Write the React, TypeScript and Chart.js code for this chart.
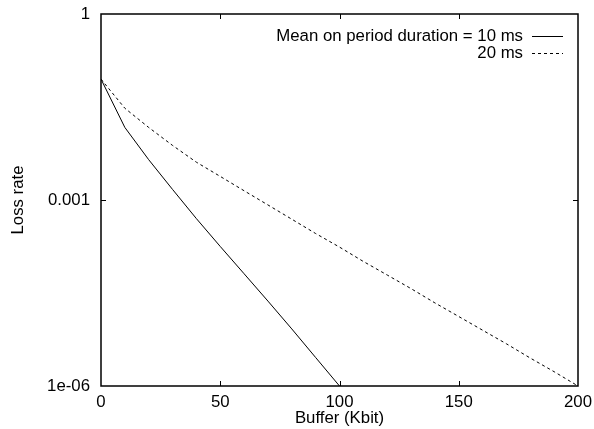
import React, { useEffect, useRef } from "react";
import { Chart, registerables } from "chart.js";

Chart.register(...registerables);

const X_10MS = [0, 10, 20, 30, 40, 50, 60, 70, 80, 90, 100];
const LOSS_10MS = [0.0891, 0.0148, 0.00447, 0.00148, 5.01e-4, 1.78e-4, 6.46e-5, 2.34e-5, 8.32e-6, 2.88e-6, 1e-6];

const X_20MS = [0, 10, 20, 30, 40, 50, 60, 70, 80, 90, 100, 110, 120, 130, 140, 150, 160, 170, 180, 190, 200];
const LOSS_20MS = [
  0.0891, 0.0302, 0.0148, 0.00759, 0.00407, 0.0024, 0.00141, 8.32e-4, 4.9e-4, 2.88e-4, 1.74e-4,
  1.02e-4, 6.17e-5, 3.72e-5, 2.19e-5, 1.32e-5, 7.94e-6, 4.79e-6, 2.82e-6, 1.7e-6, 1e-6,
];

const SERIES_LABELS = ["Mean on period duration = 10 ms", "20 ms"];
const X_TICKS = [0, 50, 100, 150, 200];
const Y_TICKS = [1e-6, 1e-3, 1];
const Y_TICK_LABELS = ["1e-06", "0.001", "1"];
const X_TITLE = "Buffer (Kbit)";
const Y_TITLE = "Loss rate";

const FONT = "'Liberation Sans', Arial, Helvetica, sans-serif";
const FS = 16.8;

const framePlugin = {
  id: "frame",
  afterDraw(chart: any) {
    const { ctx, chartArea } = chart;
    const { left, right, top, bottom } = chartArea;
    const xs = chart.scales.x;
    const ys = chart.scales.y;
    ctx.save();
    ctx.strokeStyle = "#000";
    ctx.lineWidth = 1;
    const tl = 5;
    ctx.beginPath();
    X_TICKS.forEach((v) => {
      const px = Math.round(xs.getPixelForValue(v)) + 0.5;
      if (v === X_TICKS[0] || v === X_TICKS[X_TICKS.length - 1]) return;
      ctx.moveTo(px, bottom);
      ctx.lineTo(px, bottom - tl);
      ctx.moveTo(px, top);
      ctx.lineTo(px, top + tl);
    });
    Y_TICKS.forEach((v) => {
      const py = Math.round(ys.getPixelForValue(v)) + 0.5;
      if (v === Y_TICKS[0] || v === Y_TICKS[Y_TICKS.length - 1]) return;
      ctx.moveTo(left, py);
      ctx.lineTo(left + tl, py);
      ctx.moveTo(right, py);
      ctx.lineTo(right - tl, py);
    });
    ctx.stroke();
    ctx.lineWidth = 1.5;
    ctx.strokeRect(left, top, right - left, bottom - top);

    // legend
    ctx.font = `${FS}px ${FONT}`;
    ctx.fillStyle = "#000";
    ctx.textAlign = "right";
    ctx.textBaseline = "middle";
    const textRight = 523;
    const rowY = [36, 53];
    chart.data.datasets.forEach((ds: any, i: number) => {
      const y = rowY[i];
      ctx.fillText(ds.label, textRight, y);
      ctx.beginPath();
      ctx.lineWidth = 1;
      ctx.setLineDash(ds.borderDash || []);
      ctx.moveTo(532, y + 0.5);
      ctx.lineTo(563, y + 0.5);
      ctx.stroke();
      ctx.setLineDash([]);
    });
    ctx.restore();
  },
};

export default function App() {
  const ref = useRef<HTMLCanvasElement>(null);
  useEffect(() => {
    document.body.style.margin = "0";
    const canvas = ref.current!;
    const chart = new Chart(canvas, {
      type: "scatter",
      data: {
        datasets: [
          {
            label: SERIES_LABELS[0],
            data: X_10MS.map((x, i) => ({ x, y: LOSS_10MS[i] })),
            showLine: true,
            borderColor: "#000",
            borderWidth: 1,
            pointRadius: 0,
            fill: false,
          },
          {
            label: SERIES_LABELS[1],
            data: X_20MS.map((x, i) => ({ x, y: LOSS_20MS[i] })),
            showLine: true,
            borderColor: "#000",
            borderWidth: 1,
            borderDash: [3, 3],
            pointRadius: 0,
            fill: false,
          },
        ],
      },
      plugins: [framePlugin],
      options: {
        animation: false,
        responsive: false,
        maintainAspectRatio: false,
        layout: { padding: { left: 0, right: 16, top: 14, bottom: 0 } },
        plugins: { legend: { display: false }, tooltip: { enabled: false } },
        scales: {
          x: {
            type: "linear",
            min: 0,
            max: 200,
            afterBuildTicks: (s: any) => {
              s.ticks = X_TICKS.map((v) => ({ value: v }));
            },
            afterFit: (s: any) => {
              s.height = 43;
              s.paddingLeft = 0;
              s.paddingRight = 0;
            },
            grid: { display: false, drawTicks: false },
            border: { display: false },
            ticks: {
              padding: 6,
              color: "#000",
              maxRotation: 0,
              font: { family: FONT, size: FS },
              callback: (v: any) => String(v),
            },
            title: {
              display: true,
              text: X_TITLE,
              color: "#000",
              font: { family: FONT, size: FS },
              padding: { top: 0, bottom: 1 },
            },
          },
          y: {
            type: "logarithmic",
            min: 1e-6,
            max: 1,
            afterBuildTicks: (s: any) => {
              s.ticks = Y_TICKS.map((v) => ({ value: v }));
            },
            afterFit: (s: any) => {
              s.width = 101;
              s.paddingTop = 0;
              s.paddingBottom = 0;
            },
            grid: { display: false, drawTicks: false },
            border: { display: false },
            ticks: {
              padding: 11,
              color: "#000",
              font: { family: FONT, size: FS },
              callback: (v: any) => {
                const idx = Y_TICKS.findIndex((t) => Math.abs(Math.log10(t) - Math.log10(v)) < 1e-6);
                return idx >= 0 ? Y_TICK_LABELS[idx] : "";
              },
            },
            title: {
              display: true,
              text: Y_TITLE,
              color: "#000",
              font: { family: FONT, size: FS },
              padding: { top: 8, bottom: 0 },
            },
          },
        },
      },
    });
    return () => chart.destroy();
  }, []);
  return <canvas ref={ref} width={594} height={429} style={{ display: "block" }} />;
}
